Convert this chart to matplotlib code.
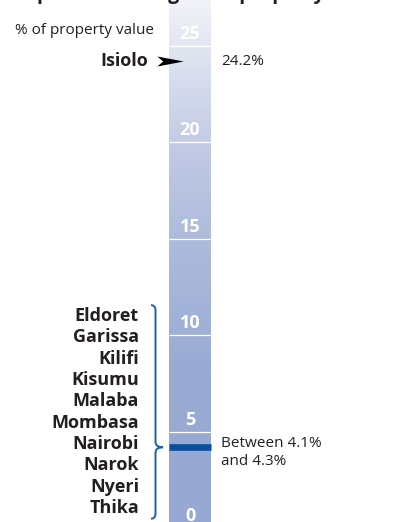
import matplotlib
matplotlib.use("Agg")
import matplotlib.pyplot as plt
import numpy as np
from matplotlib.path import Path
from matplotlib.patches import PathPatch
from matplotlib.colors import to_rgb

plt.rcParams["font.family"] = ["Open Sans", "DejaVu Sans"]

# chart data
scale_ticks = [0, 5, 10, 15, 20, 25]
top_city = "Isiolo"
top_value = 24.2
group_cities = ["Eldoret", "Garissa", "Kilifi", "Kisumu", "Malaba",
                "Mombasa", "Nairobi", "Narok", "Nyeri", "Thika"]
group_low = 4.1
group_high = 4.3

TITLE = "Top rate of charges for property"
SUBTITLE = "% of property value"

# layout (x in pixels, y in % of property value)
Y_MIN, Y_MAX = 0.33, 27.36
BAR_LEFT, BAR_RIGHT = 169, 211
LABEL_RIGHT = 139
NOTE_LEFT = 221
BAR_BLUE = "#0b4f9c"
BRACE_BLUE = "#1b5faa"


def bar_gradient(values):
    stops = [Y_MIN, 8, 15, 20, 25, Y_MAX]
    colors = np.array([to_rgb(c) for c in
                       ["#97a8d2", "#99aad3", "#aebbdc", "#c3cbe5",
                        "#e2e6f2", "#f2f3f9"]])
    rgb = np.stack([np.interp(values, stops, colors[:, i]) for i in range(3)],
                   axis=-1)
    return rgb[:, None, :]


def draw_brace(ax, x0, top, bottom, tip, tip_x, hook_x, h):
    verts = [(hook_x, top), (x0, top), (x0, top - h),
             (x0, tip + h),
             (x0, tip), (tip_x, tip),
             (x0, tip), (x0, tip - h),
             (x0, bottom + h),
             (x0, bottom), (hook_x, bottom)]
    codes = [Path.MOVETO, Path.CURVE3, Path.CURVE3,
             Path.LINETO,
             Path.CURVE3, Path.CURVE3,
             Path.CURVE3, Path.CURVE3,
             Path.LINETO,
             Path.CURVE3, Path.CURVE3]
    ax.add_patch(PathPatch(Path(verts, codes), fill=False,
                           edgecolor=BRACE_BLUE, lw=1.4, clip_on=False))


fig = plt.figure(figsize=(4.05, 5.22), dpi=100)
ax = fig.add_axes([0, 0, 1, 1])
ax.set_xlim(0, 405)
ax.set_ylim(Y_MIN, Y_MAX)
ax.axis("off")

# gradient bar
grad_values = np.linspace(Y_MIN, Y_MAX, 500)
ax.imshow(bar_gradient(grad_values), origin="lower", aspect="auto",
          extent=[BAR_LEFT, BAR_RIGHT, Y_MIN, Y_MAX], interpolation="bilinear")

# scale lines and numbers inside the bar
bar_mid = (BAR_LEFT + BAR_RIGHT) / 2
ax.hlines(scale_ticks, BAR_LEFT, BAR_RIGHT, color="white", lw=0.9)
for t in scale_ticks:
    ax.annotate(str(t), xy=(bar_mid, t), xytext=(0, 5),
                textcoords="offset points", ha="center", va="baseline",
                color="white", fontsize=13, fontweight="bold",
                annotation_clip=False)

# top city with arrow
ax.plot([BAR_LEFT + 1], [top_value], marker=Path(
    [(-1, 0.38), (1, 0), (-1, -0.38), (-0.55, 0), (-1, 0.38)],
    [Path.MOVETO, Path.LINETO, Path.LINETO, Path.LINETO, Path.CLOSEPOLY]),
    markersize=19, color="black", markeredgewidth=0)
ax.text(148, top_value, top_city, ha="right", va="center",
        fontsize=13, fontweight="bold", color="#231f20")
ax.text(NOTE_LEFT, top_value, f"{top_value}%", ha="left", va="center",
        fontsize=11, color="#231f20")

# grouped cities
group_mid = (group_low + group_high) / 2
ax.plot([BAR_LEFT, BAR_RIGHT], [group_mid, group_mid], color=BAR_BLUE,
        lw=4.8, solid_capstyle="butt")
city_y = np.linspace(11.0, 1.05, len(group_cities))
for name, y in zip(group_cities, city_y):
    ax.text(LABEL_RIGHT, y, name, ha="right", va="center",
            fontsize=13, fontweight="bold", color="#231f20")
draw_brace(ax, 155.5, city_y[0] + 0.56, city_y[-1] - 0.55, group_mid,
           163, 151, 0.28)
ax.annotate(f"Between {group_low}%\nand {group_high}%",
            xy=(NOTE_LEFT, group_mid), xytext=(0, -4),
            textcoords="offset points", ha="left", va="center",
            fontsize=11, linespacing=1.25, color="#231f20")

# titles (main title is cut off by the top edge)
fig.text(15 / 405, 1 + 0.5 / 522, TITLE, ha="left", va="baseline",
         fontsize=14, fontweight="bold", color="#231f20")
fig.text(15 / 405, 1 - 30 / 522, SUBTITLE, ha="left", va="center",
         fontsize=11, color="#231f20")

fig.savefig("out.png", dpi=100)
